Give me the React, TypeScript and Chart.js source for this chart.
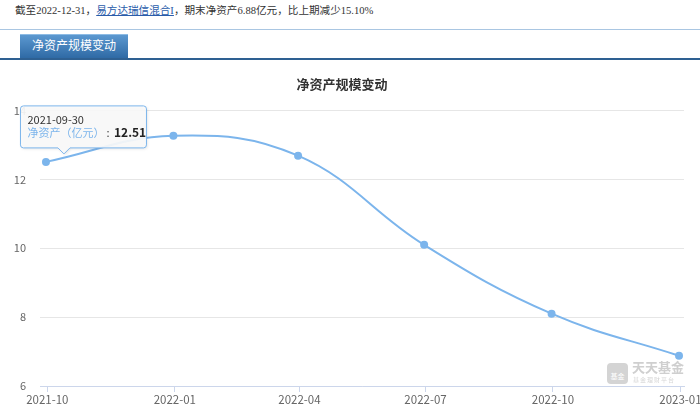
import React, { useEffect, useRef } from "react";
import { Chart, registerables } from "chart.js";

Chart.register(...registerables);

// ---- data ----
const reportDates = ["2021-09-30", "2021-12-31", "2022-03-31", "2022-06-30", "2022-09-30", "2022-12-31"];
const netAssets = [12.51, 13.27, 12.69, 10.1, 8.1, 6.88];
const tickDates = ["2021-10-01", "2022-01-01", "2022-04-01", "2022-07-01", "2022-10-01", "2023-01-01"];
const tickLabels = ["2021-10", "2022-01", "2022-04", "2022-07", "2022-10", "2023-01"];
const yTicks = [6, 8, 10, 12, 14];
const seriesName = "净资产（亿元）";
const chartTitle = "净资产规模变动";
const fundName = "易方达瑞信混合I";

const FONT = '"Noto Sans CJK SC", "Open Sans", sans-serif';
const SERIF = '"Liberation Serif", "Noto Sans CJK SC", serif';
const LINE = "#7cb5ec";

const DAY = 86400000;
const baseTime = Date.parse(reportDates[0]);
const toDay = (d: string) => (Date.parse(d) - baseTime) / DAY;

const fixedTooltip = {
  id: "fixedTooltip",
  afterDraw(chart: any) {
    const pt = chart.getDatasetMeta(0).data[0];
    if (!pt) return;
    const { x, y } = pt;
    const ctx = chart.ctx as CanvasRenderingContext2D;
    const left = x - 25.5;
    const top = y - 56;
    const w = 126;
    const h = 42;
    const r = 3;
    const tipX = x + 18;
    const tipY = y - 8;
    ctx.save();
    ctx.beginPath();
    ctx.moveTo(left + r, top);
    ctx.lineTo(left + w - r, top);
    ctx.arcTo(left + w, top, left + w, top + r, r);
    ctx.lineTo(left + w, top + h - r);
    ctx.arcTo(left + w, top + h, left + w - r, top + h, r);
    ctx.lineTo(tipX + 6, top + h);
    ctx.lineTo(tipX, tipY);
    ctx.lineTo(tipX - 6, top + h);
    ctx.lineTo(left + r, top + h);
    ctx.arcTo(left, top + h, left, top + h - r, r);
    ctx.lineTo(left, top + r);
    ctx.arcTo(left, top, left + r, top, r);
    ctx.closePath();
    ctx.shadowColor = "rgba(0,0,0,0.12)";
    ctx.shadowOffsetX = 1;
    ctx.shadowOffsetY = 1;
    ctx.shadowBlur = 3;
    ctx.fillStyle = "rgba(250,250,250,0.92)";
    ctx.fill();
    ctx.shadowColor = "transparent";
    ctx.strokeStyle = LINE;
    ctx.lineWidth = 1;
    ctx.stroke();

    ctx.textBaseline = "middle";
    ctx.textAlign = "left";
    ctx.font = `11px ${FONT}`;
    ctx.fillStyle = "#333";
    ctx.fillText(reportDates[0], left + 7, top + 14);
    ctx.fillStyle = LINE;
    ctx.fillText(seriesName, left + 7, top + 27);
    let tx = left + 7 + ctx.measureText(seriesName).width;
    ctx.fillStyle = "#333";
    ctx.fillText(":", tx + 2, top + 27);
    tx += 2 + ctx.measureText(": ").width + 2;
    ctx.font = `bold 12px ${FONT}`;
    ctx.fillStyle = "#222";
    ctx.fillText(netAssets[0].toFixed(2), tx, top + 27);
    ctx.restore();
  },
};

export default function App() {
  const ref = useRef<HTMLCanvasElement>(null);

  useEffect(() => {
    if (!ref.current) return;
    const chart = new Chart(ref.current, {
      type: "line",
      data: {
        datasets: [
          {
            label: seriesName,
            data: reportDates.map((d, i) => ({ x: toDay(d), y: netAssets[i] })),
            borderColor: LINE,
            backgroundColor: LINE,
            borderWidth: 2,
            pointRadius: 4,
            pointBorderWidth: 0,
            pointBackgroundColor: LINE,
            tension: 0.4,
            fill: false,
          },
        ],
      },
      options: {
        responsive: false,
        animation: false,
        events: [],
        layout: { padding: { left: 0, right: 16, top: 0, bottom: 0 } },
        plugins: {
          legend: { display: false },
          tooltip: { enabled: false },
          title: {
            display: true,
            text: chartTitle,
            color: "#333",
            font: { size: 13, weight: "bold", family: FONT },
            padding: { top: 15, bottom: 19 },
          },
        },
        scales: {
          x: {
            type: "linear",
            min: -4.3,
            max: 460.6,
            afterBuildTicks: (s: any) => {
              s.ticks = tickDates.map((d) => ({ value: toDay(d) }));
            },
            afterFit: (s: any) => {
              s.height = 26;
              s.paddingLeft = 0;
              s.paddingRight = 0;
            },
            ticks: {
              autoSkip: false,
              maxRotation: 0,
              color: "#666",
              font: { size: 11.5, family: FONT },
              padding: 1,
              callback: (_v: any, i: number) => tickLabels[i],
            },
            grid: { drawOnChartArea: false, drawTicks: true, tickLength: 6, color: "#ccd6eb" },
            border: { color: "#ccd6eb", width: 1 },
          },
          y: {
            min: yTicks[0],
            max: yTicks[yTicks.length - 1],
            afterBuildTicks: (s: any) => {
              s.ticks = yTicks.map((v) => ({ value: v }));
            },
            afterFit: (s: any) => {
              s.width = 40;
            },
            ticks: { color: "#666", font: { size: 11, family: FONT }, padding: 14 },
            grid: { color: "#e6e6e6", drawTicks: false },
            border: { display: false },
          },
        },
      },
      plugins: [fixedTooltip],
    } as any);
    return () => chart.destroy();
  }, []);

  return (
    <div
      style={{
        position: "fixed",
        left: 0,
        top: 0,
        width: 700,
        height: 412,
        background: "#fff",
        overflow: "hidden",
      }}
    >
      <div
        style={{
          position: "absolute",
          left: 15,
          top: 3,
          fontSize: "10.6px",
          lineHeight: "16px",
          color: "#333",
          fontFamily: SERIF,
          whiteSpace: "nowrap",
        }}
      >
        截至2022-12-31，
        <span style={{ color: "#2a5caa", textDecoration: "underline" }}>{fundName}</span>
        ，期末净资产6.88亿元，比上期减少15.10%
      </div>
      <div style={{ position: "absolute", left: 0, top: 29, width: 700, height: 1, background: "#a9c6e2" }} />
      <div
        style={{
          position: "absolute",
          left: 20,
          top: 34,
          width: 108,
          height: 24,
          background: "linear-gradient(#5d9ad2, #2f6aa5)",
          boxShadow: "inset 0 1px 0 #8dbbe4",
          color: "#fff",
          fontSize: 12,
          lineHeight: "24px",
          textAlign: "center",
          fontFamily: SERIF,
        }}
      >
        {chartTitle}
      </div>
      <div style={{ position: "absolute", left: 0, top: 58, width: 700, height: 2, background: "#2e6092" }} />
      <canvas
        ref={ref}
        width={700}
        height={351}
        style={{ position: "absolute", left: 0, top: 61, width: 700, height: 351 }}
      />
      <div style={{ position: "absolute", left: 607, top: 363, pointerEvents: "none" }}>
        <div
          style={{
            position: "absolute",
            left: 0,
            top: 0,
            width: 21,
            height: 21,
            borderRadius: 4,
            background: "#d4d4d4",
            color: "#fff",
            fontSize: 7,
            lineHeight: "7px",
            textAlign: "center",
            fontFamily: FONT,
            paddingTop: 10,
            boxSizing: "border-box",
          }}
        >
          基金
        </div>
        <div
          style={{
            position: "absolute",
            left: 25,
            top: -3,
            fontSize: 13,
            fontWeight: "bold",
            color: "#cfcfcf",
            fontFamily: SERIF,
            whiteSpace: "nowrap",
            lineHeight: "16px",
          }}
        >
          天天基金
        </div>
        <div
          style={{
            position: "absolute",
            left: 26,
            top: 13,
            fontSize: 6,
            color: "#d6d6d6",
            fontFamily: FONT,
            whiteSpace: "nowrap",
            letterSpacing: 1,
            lineHeight: "8px",
          }}
        >
          基金理财平台
        </div>
      </div>
    </div>
  );
}
